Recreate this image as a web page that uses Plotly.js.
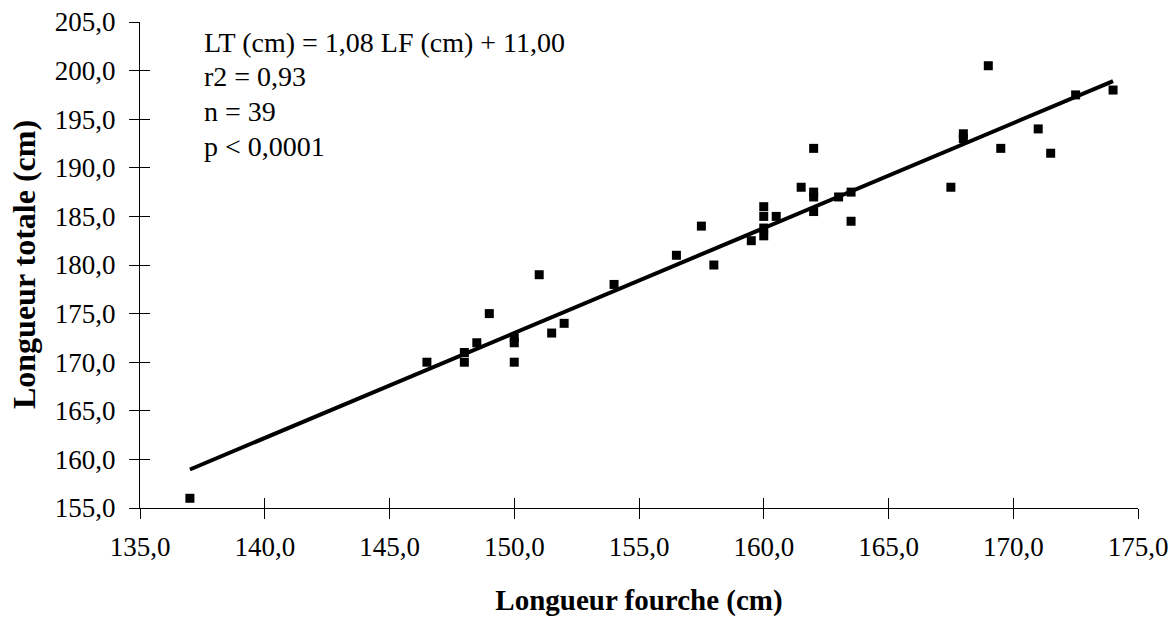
<!DOCTYPE html>
<html>
<head>
<meta charset="utf-8">
<script src="https://cdn.plot.ly/plotly-3.0.1.min.js"></script>
<style>html,body{margin:0;padding:0;background:#fff;}#chart{width:1176px;height:617px;}</style>
</head>
<body>
<div id="chart"></div>
<script>
// Longueur fourche (cm)
const lf = [137, 146.5, 148, 148, 148.5, 149, 150, 150, 150, 151, 151.5, 152, 154,
  156.5, 157.5, 158, 159.5, 160, 160, 160, 160, 160.5, 161.5, 162, 162, 162, 162, 163, 163.5, 163.5,
  167.5, 168, 168, 169, 169.5, 171, 171.5, 172.5, 174];
// Longueur totale (cm)
const lt = [156, 170, 171, 170, 172, 175, 172.5, 172, 170, 179, 173, 174, 178,
  181, 184, 180, 182.5, 186, 185, 183.8, 183, 185, 188, 187.5, 187, 185.5, 192, 187, 187.5, 184.5,
  188, 193.5, 193, 200.5, 192, 194, 191.5, 197.5, 198];
const slope = 1.08;
const intercept = 11.0;
const fitRange = [137, 174];
const xTicks = [135, 140, 145, 150, 155, 160, 165, 170, 175];
const yTicks = [155, 160, 165, 170, 175, 180, 185, 190, 195, 200, 205];
const statsLines = ["LT (cm) = 1,08 LF (cm) + 11,00", "r2 = 0,93", "n = 39", "p < 0,0001"];
const yTitle = "Longueur totale (cm)";

const fitY = fitRange.map(v => slope * v + intercept);
const font = "Liberation Serif, Times New Roman, serif";

const traces = [
  {x: lf, y: lt, type: 'scatter', mode: 'markers',
   marker: {symbol: 'square', size: 9, color: '#000'}, cliponaxis: false, hoverinfo: 'x+y'},
  {x: fitRange, y: fitY, type: 'scatter', mode: 'lines',
   line: {color: '#000', width: 4}, cliponaxis: false},
  {x: [fitRange[0]], y: [fitY[0]], xaxis: 'x2', yaxis: 'y2', type: 'scatter', mode: 'markers',
   marker: {opacity: 0}, hoverinfo: 'skip'}
];

const axisCommon = {
  showgrid: false, zeroline: false, showline: true, linecolor: '#000', linewidth: 1,
  tickcolor: '#000', ticklen: 10, tickwidth: 1, tickmode: 'array', tickformat: '.1f',
  tickfont: {family: font, size: 27, color: '#000'}
};

const lineY = [0.9588, 0.8878, 0.8168, 0.7448];

const annotations = statsLines.map((t, i) => ({
  xref: 'paper', yref: 'paper', x: 0.062, y: lineY[i], xanchor: 'left', yanchor: 'middle',
  align: 'left', showarrow: false, text: t,
  font: {family: font, size: 28, color: '#000'}
}));
annotations.push({
  xref: 'paper', yref: 'paper', x: -0.1162, y: 0.5, xanchor: 'center', yanchor: 'middle',
  textangle: -90, showarrow: false, text: '<b>' + yTitle + '</b>',
  font: {family: font, size: 32, color: '#000'}
});

const layout = {
  width: 1176, height: 617,
  margin: {l: 140, r: 38, t: 22, b: 109},
  paper_bgcolor: '#fff', plot_bgcolor: '#fff',
  separators: ', ',
  showlegend: false,
  font: {family: font, color: '#000'},
  xaxis: Object.assign({}, axisCommon, {
    range: [135, 175], tickvals: xTicks, ticks: 'outside', ticklabelstandoff: 5,
    title: {text: '<b>Longueur fourche (cm)</b>', font: {family: font, size: 29, color: '#000'}, standoff: 28}
  }),
  yaxis: Object.assign({}, axisCommon, {
    range: [155, 205], tickvals: yTicks, ticks: 'outside', ticklabelstandoff: 8
  }),
  xaxis2: Object.assign({}, axisCommon, {
    matches: 'x', overlaying: 'x', anchor: 'y2', tickvals: xTicks, ticks: 'inside', showticklabels: false, showline: false
  }),
  yaxis2: Object.assign({}, axisCommon, {
    matches: 'y', overlaying: 'y', anchor: 'x2', tickvals: yTicks, ticks: 'inside', showticklabels: false, showline: false
  }),
  annotations: annotations
};

Plotly.newPlot('chart', traces, layout, {displayModeBar: false, staticPlot: true});
</script>
</body>
</html>
